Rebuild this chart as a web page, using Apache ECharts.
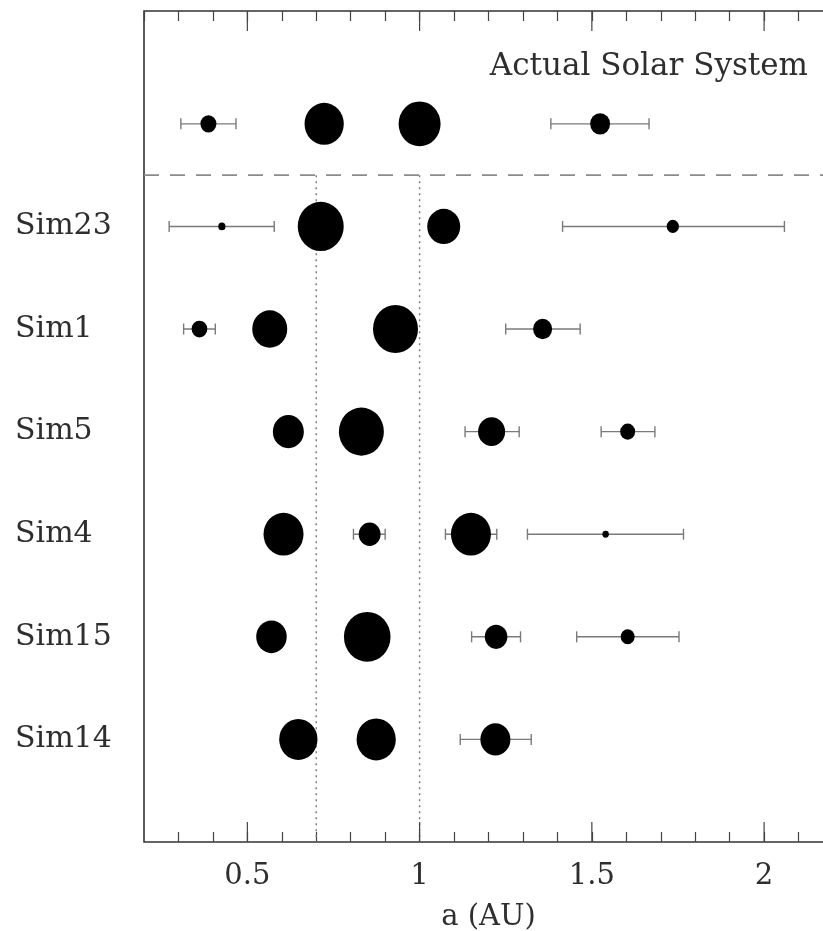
<!DOCTYPE html>
<html>
<head>
<meta charset="utf-8">
<script src="https://cdn.jsdelivr.net/npm/echarts@6/dist/echarts.min.js"></script>
<style>
  html, body { margin: 0; padding: 0; background: #fff; }
  #chart { width: 823px; height: 931px; }
</style>
</head>
<body>
<div id="chart"></div>
<script>
// Semi-major axis (AU), perihelion q, aphelion Q and mass (Earth masses) of each planet
const solarA = [0.387, 0.723, 1.000, 1.524];
const solarQ1 = [0.307, 0.718, 0.983, 1.381];
const solarQ2 = [0.467, 0.728, 1.017, 1.666];
const solarM = [0.055, 0.815, 1.000, 0.107];

const sim23A = [0.426, 0.713, 1.070, 1.735];
const sim23Q1 = [0.273, 0.700, 1.060, 1.415];
const sim23Q2 = [0.578, 0.730, 1.080, 2.059];
const sim23M = [0.005, 1.31, 0.485, 0.025];

const sim1A = [0.361, 0.565, 0.930, 1.357];
const sim1Q1 = [0.315, 0.550, 0.910, 1.250];
const sim1Q2 = [0.407, 0.580, 0.950, 1.466];
const sim1M = [0.052, 0.579, 1.23, 0.093];

const sim5A = [0.619, 0.831, 1.209, 1.604];
const sim5Q1 = [0.600, 0.810, 1.132, 1.527];
const sim5Q2 = [0.640, 0.850, 1.289, 1.683];
const sim5M = [0.402, 1.23, 0.266, 0.0455];

const sim4A = [0.605, 0.855, 1.149, 1.540];
const sim4Q1 = [0.580, 0.808, 1.075, 1.313];
const sim4Q2 = [0.630, 0.900, 1.224, 1.766];
const sim4M = [0.864, 0.140, 0.864, 0.0037];

const sim15A = [0.570, 0.848, 1.222, 1.604];
const sim15Q1 = [0.550, 0.820, 1.151, 1.456];
const sim15Q2 = [0.590, 0.870, 1.293, 1.753];
const sim15M = [0.383, 1.366, 0.156, 0.037];

const sim14A = [0.648, 0.874, 1.220];
const sim14Q1 = [0.620, 0.850, 1.118];
const sim14Q2 = [0.670, 0.900, 1.324];
const sim14M = [0.758, 0.813, 0.364];

// Row order, bottom to top
const rowNames = ['Sim14', 'Sim15', 'Sim4', 'Sim5', 'Sim1', 'Sim23'];
const solarLabel = 'Actual Solar System';
const xTickLabels = ['0.5', '1', '1.5', '2'];
const majorTicks = [0.5, 1.0, 1.5, 2.0];
const refLines = [0.7, 1.0];

const systems = [
  { a: sim14A, q: sim14Q1, Q: sim14Q2, m: sim14M },
  { a: sim15A, q: sim15Q1, Q: sim15Q2, m: sim15M },
  { a: sim4A, q: sim4Q1, Q: sim4Q2, m: sim4M },
  { a: sim5A, q: sim5Q1, Q: sim5Q2, m: sim5M },
  { a: sim1A, q: sim1Q1, Q: sim1Q2, m: sim1M },
  { a: sim23A, q: sim23Q1, Q: sim23Q2, m: sim23M },
  { a: solarA, q: solarQ1, Q: solarQ2, m: solarM }
];

const X_MIN = 0.2, X_MAX = 2.2, Y_MIN = 0, Y_MAX = 8.1;
const DIVIDER = 6.5;

const planets = [];
const orbits = [];
systems.forEach((s, i) => {
  const row = i + 1;
  s.a.forEach((a, j) => {
    planets.push([a, row, s.m[j]]);
    orbits.push([s.q[j], s.Q[j], row]);
  });
});

const FONT = '"DejaVu Serif", "Liberation Serif", serif';
const TEXT = '#2e2e2e';

const chart = echarts.init(document.getElementById('chart'), null, { renderer: 'canvas' });

const xAxisBase = {
  type: 'value', min: X_MIN, max: X_MAX, interval: 0.1,
  splitLine: { show: false },
  axisLine: { show: false },
  axisTick: { show: true, inside: true, length: 10, lineStyle: { color: '#444', width: 1.2 } }
};

chart.setOption({
  animation: false,
  backgroundColor: '#fff',
  title: {
    text: solarLabel, right: 10, top: 46,
    textStyle: { fontFamily: FONT, fontSize: 31, fontWeight: 'normal', color: TEXT }
  },
  // plot frame runs a little past the right edge of the page
  grid: {
    left: 144, top: 11, width: 689, height: 831,
    outerBoundsMode: 'none', containLabel: false,
    show: true, borderColor: '#333', borderWidth: 1.6, backgroundColor: 'transparent'
  },
  xAxis: [
    Object.assign({}, xAxisBase, {
      position: 'bottom',
      name: 'a (AU)', nameLocation: 'middle', nameGap: 61,
      nameTextStyle: { fontFamily: FONT, fontSize: 29, color: TEXT },
      axisLabel: {
        margin: 20, fontFamily: FONT, fontSize: 29, color: TEXT,
        showMinLabel: false, showMaxLabel: false,
        formatter: v => {
          const k = majorTicks.findIndex(t => Math.abs(t - v) < 1e-6);
          return k >= 0 ? xTickLabels[k] : '';
        }
      }
    }),
    Object.assign({}, xAxisBase, { position: 'top', axisLabel: { show: false } })
  ],
  yAxis: {
    type: 'value', min: Y_MIN, max: Y_MAX, interval: 1,
    splitLine: { show: false }, axisLine: { show: false }, axisTick: { show: false },
    axisLabel: {
      margin: 129, align: 'left', fontFamily: FONT, fontSize: 30, color: TEXT,
      formatter: v => {
        const k = Math.round(v) - 1;
        return (Math.abs(v - Math.round(v)) < 1e-6 && k >= 0 && k < rowNames.length) ? rowNames[k] : '';
      }
    }
  },
  series: [
    {
      // long major ticks on bottom and top
      type: 'custom', silent: true, z: 3,
      data: majorTicks.map(t => [t]),
      renderItem: (params, api) => {
        const b = api.coord([api.value(0), Y_MIN]);
        const t = api.coord([api.value(0), Y_MAX]);
        const st = { stroke: '#444', lineWidth: 1.2 };
        return {
          type: 'group', children: [
            { type: 'line', shape: { x1: b[0], y1: b[1], x2: b[0], y2: b[1] - 20 }, style: st },
            { type: 'line', shape: { x1: t[0], y1: t[1], x2: t[0], y2: t[1] + 20 }, style: st }
          ]
        };
      }
    },
    {
      // dotted guides at the orbits of Venus and Earth
      type: 'custom', silent: true, z: 1,
      data: refLines.map(v => [v]),
      renderItem: (params, api) => {
        const top = api.coord([api.value(0), DIVIDER]);
        const bot = api.coord([api.value(0), Y_MIN]);
        return {
          type: 'line',
          shape: { x1: top[0], y1: top[1], x2: bot[0], y2: bot[1] },
          style: { stroke: '#777', lineWidth: 1.4, lineDash: [2, 4] }
        };
      }
    },
    {
      // dashed divider under the Solar System row
      type: 'custom', silent: true, z: 1,
      data: [[X_MIN, X_MAX, DIVIDER]],
      renderItem: (params, api) => {
        const l = api.coord([api.value(0), api.value(2)]);
        const r = api.coord([api.value(1), api.value(2)]);
        return {
          type: 'line',
          shape: { x1: l[0], y1: l[1], x2: r[0], y2: r[1] },
          style: { stroke: '#8a8a8a', lineWidth: 1.6, lineDash: [15, 11] }
        };
      }
    },
    {
      // perihelion–aphelion ranges
      type: 'custom', silent: true, z: 2,
      data: orbits,
      renderItem: (params, api) => {
        const p1 = api.coord([api.value(0), api.value(2)]);
        const p2 = api.coord([api.value(1), api.value(2)]);
        const st = { stroke: '#7a7a7a', lineWidth: 1.4 };
        const c = 5.5;
        return {
          type: 'group', children: [
            { type: 'line', shape: { x1: p1[0], y1: p1[1], x2: p2[0], y2: p2[1] }, style: st },
            { type: 'line', shape: { x1: p1[0], y1: p1[1] - c, x2: p1[0], y2: p1[1] + c }, style: st },
            { type: 'line', shape: { x1: p2[0], y1: p2[1] - c, x2: p2[0], y2: p2[1] + c }, style: st }
          ]
        };
      }
    },
    {
      // planets, diameter scaled by mass^(1/3)
      type: 'scatter', z: 4,
      data: planets,
      symbol: 'circle',
      symbolSize: v => {
        const w = 42 * Math.cbrt(v[2]);
        return [w, w * 1.07];
      },
      itemStyle: { color: '#000', opacity: 1 }
    }
  ]
});
</script>
</body>
</html>
